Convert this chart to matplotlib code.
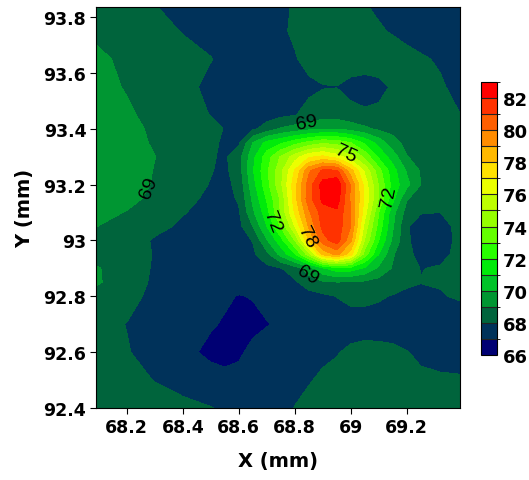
import matplotlib
matplotlib.use("Agg")
import matplotlib.pyplot as plt
import numpy as np
from matplotlib.colors import ListedColormap, BoundaryNorm
from matplotlib.ticker import FuncFormatter

plt.rcParams['font.family'] = ['DejaVu Sans']

# grid nodes (mm)
x_mm = [68.08, 68.2, 68.3, 68.4, 68.5, 68.55, 68.6, 68.65, 68.7, 68.75, 68.8,
        68.85, 68.9, 68.95, 69.0, 69.05, 69.1, 69.15, 69.2, 69.25, 69.32, 69.4]
y_mm = [92.4, 92.5, 92.6, 92.7, 92.8, 92.85, 92.9, 92.95, 93.0, 93.05, 93.1,
        93.15, 93.2, 93.25, 93.3, 93.35, 93.4, 93.45, 93.55, 93.65, 93.75, 93.84]

# values, one row per y node (bottom to top)
z_rows = [
    [68.6, 68.5, 68.4, 68.25, 68.03, 67.85, 67.65, 67.55, 67.6, 67.75, 68.02, 68.2, 68.35, 68.45, 68.5, 68.5, 68.5, 68.5, 68.5, 68.5, 68.5, 68.5],
    [68.5, 68.3, 67.97, 67.65, 67.45, 67.35, 67.3, 67.35, 67.45, 67.6, 67.8, 67.95, 68.12, 68.25, 68.35, 68.4, 68.4, 68.35, 68.25, 68.15, 68.1, 68.05],
    [68.4, 68.05, 67.7, 67.3, 66.75, 66.6, 66.85, 67.25, 67.45, 67.55, 67.65, 67.75, 67.85, 67.95, 68.15, 68.25, 68.25, 68.2, 68.03, 67.85, 67.75, 67.8],
    [68.3, 67.98, 67.7, 67.4, 67.1, 66.9, 66.7, 66.75, 66.95, 67.15, 67.3, 67.4, 67.5, 67.6, 67.65, 67.65, 67.6, 67.55, 67.5, 67.5, 67.55, 67.6],
    [68.7, 68.25, 67.8, 67.5, 67.3, 67.15, 66.95, 67.05, 67.3, 67.4, 67.45, 67.6, 67.8, 68.02, 68.2, 68.2, 68.1, 67.95, 67.8, 67.8, 67.95, 68.1],
    [69.2, 68.45, 67.85, 67.55, 67.4, 67.4, 67.4, 67.5, 67.6, 67.7, 67.85, 68.5, 68.85, 68.95, 68.9, 68.8, 68.6, 68.4, 68.15, 68.02, 68.05, 68.3],
    [69.15, 68.5, 67.9, 67.6, 67.5, 67.5, 67.5, 67.6, 67.75, 67.95, 68.5, 69.5, 70.8, 71.6, 71.5, 70.8, 69.8, 68.9, 68.4, 67.97, 68.1, 68.4],
    [68.7, 68.4, 67.95, 67.6, 67.5, 67.5, 67.55, 67.8, 68.7, 70.3, 71.9, 74.5, 78.2, 79.3, 77.4, 73.5, 71.0, 69.1, 68.3, 67.65, 67.7, 68.4],
    [68.7, 68.45, 67.9, 67.6, 67.5, 67.5, 67.6, 68.05, 69.9, 71.6, 74.0, 78.0, 80.6, 81.5, 79.2, 74.9, 72.0, 69.8, 68.2, 67.4, 67.5, 68.4],
    [69.05, 68.65, 68.25, 67.85, 67.6, 67.55, 67.7, 69.0, 71.0, 73.1, 76.0, 79.1, 81.3, 81.6, 80.0, 75.6, 72.6, 70.1, 68.1, 67.6, 67.6, 68.4],
    [69.35, 68.95, 68.55, 68.05, 67.7, 67.6, 67.9, 69.8, 71.6, 74.1, 77.1, 79.8, 81.5, 81.8, 80.0, 76.4, 73.0, 70.3, 68.6, 68.05, 68.0, 68.5],
    [69.5, 69.3, 68.75, 68.35, 67.75, 67.7, 68.1, 70.2, 72.1, 74.2, 77.6, 80.6, 82.3, 82.6, 79.8, 76.8, 73.9, 71.3, 69.1, 68.5, 68.4, 68.5],
    [69.6, 69.5, 68.9, 68.45, 67.95, 67.7, 68.3, 70.6, 72.6, 74.8, 77.6, 80.5, 82.4, 82.8, 79.9, 76.6, 73.9, 71.6, 70.3, 69.0, 68.6, 68.5],
    [69.6, 69.55, 68.95, 68.55, 68.05, 67.8, 68.5, 70.9, 72.8, 74.7, 77.1, 79.8, 81.2, 81.2, 78.4, 75.8, 73.4, 71.4, 69.9, 68.9, 68.6, 68.5],
    [69.6, 69.55, 69.02, 68.55, 68.1, 67.85, 68.6, 70.7, 72.5, 74.1, 75.5, 76.8, 77.2, 76.5, 75.3, 73.7, 71.8, 70.5, 69.05, 68.6, 68.5, 68.5],
    [69.6, 69.5, 68.85, 68.5, 68.2, 67.85, 67.85, 70.0, 71.3, 71.8, 72.6, 73.3, 73.8, 73.6, 73.0, 71.8, 70.6, 69.4, 68.7, 68.5, 68.45, 68.4],
    [69.6, 69.5, 68.7, 68.5, 68.3, 67.95, 67.7, 67.8, 68.4, 69.1, 69.4, 69.7, 69.9, 69.9, 69.6, 69.2, 68.8, 68.65, 68.45, 68.4, 68.35, 68.2],
    [69.55, 69.2, 68.6, 68.4, 67.97, 67.8, 67.6, 67.55, 67.6, 67.75, 67.95, 68.3, 68.55, 68.55, 68.3, 68.15, 68.2, 68.35, 68.4, 68.35, 68.2, 67.98],
    [69.5, 68.9, 68.5, 68.25, 67.8, 67.65, 67.55, 67.5, 67.5, 67.55, 67.65, 67.8, 67.95, 67.98, 67.7, 67.6, 67.75, 68.1, 68.4, 68.35, 68.1, 67.7],
    [69.3, 68.75, 68.55, 68.35, 68.03, 67.8, 67.65, 67.6, 67.6, 67.7, 67.92, 68.3, 68.55, 68.6, 68.55, 68.5, 68.5, 68.45, 68.3, 68.1, 67.9, 67.6],
    [68.8, 68.6, 68.35, 67.95, 67.7, 67.6, 67.55, 67.55, 67.6, 67.85, 68.15, 68.4, 68.5, 68.5, 68.45, 68.3, 68.1, 67.92, 67.7, 67.6, 67.55, 67.55],
    [68.6, 68.35, 68.02, 67.75, 67.6, 67.55, 67.5, 67.5, 67.6, 67.8, 68.1, 68.3, 68.35, 68.35, 68.2, 68.05, 67.85, 67.7, 67.6, 67.55, 67.5, 67.5],
]

levels = list(range(66, 84))
band_colors = ['#000073', '#00325A', '#00643C', '#009632', '#00C328', '#00EB0A',
               '#28FF00', '#64FF00', '#96FF00', '#BEFF00', '#EBFF00', '#FFE100',
               '#FFB900', '#FF8C00', '#FF5F00', '#FF3200', '#FF0000']

label_levels = [69, 72, 75, 78]
label_pos = [(68.258, 93.203), (68.846, 93.41), (68.85, 92.88),
             (68.721, 93.07), (69.137, 93.156), (68.982, 93.31), (68.839, 93.013)]

x = np.array(x_mm)
y = np.array(y_mm)
z = np.array(z_rows)

cmap = ListedColormap(band_colors)
norm = BoundaryNorm(levels, cmap.N)

fig = plt.figure(figsize=(5.29, 4.81), dpi=100)
ax = fig.add_axes([0.1815, 0.1497, 0.688, 0.8337])
cf = ax.contourf(x, y, z, levels=levels, cmap=cmap, norm=norm)
cs = ax.contour(x, y, z, levels=label_levels, colors='k', linewidths=0)
lbls = ax.clabel(cs, fmt='%d', manual=label_pos, inline=False, fontsize=14)
for t in cs.labelTexts:
    t.set_family(['Liberation Sans', 'DejaVu Sans'])

ax.set_xlim(68.09, 69.39)
ax.set_ylim(92.4, 93.836)
ax.set_xticks([68.2, 68.4, 68.6, 68.8, 69.0, 69.2])
ax.set_yticks([92.4, 92.6, 92.8, 93.0, 93.2, 93.4, 93.6, 93.8])
fmt = FuncFormatter(lambda v, p: '%g' % round(v, 2))
ax.xaxis.set_major_formatter(fmt)
ax.yaxis.set_major_formatter(fmt)
ax.tick_params(direction='out', length=4, width=0.8, labelsize=12.5, pad=3)
for t in ax.get_xticklabels() + ax.get_yticklabels():
    t.set_fontweight('bold')
ax.set_xlabel('X (mm)', fontsize=14, fontweight='bold', labelpad=11)
ax.set_ylabel('Y (mm)', fontsize=14, fontweight='bold', labelpad=7)
for s in ax.spines.values():
    s.set_linewidth(0.8)

cax = fig.add_axes([0.909, 0.2599, 0.0302, 0.5676])
cb = fig.colorbar(cf, cax=cax, ticks=list(range(66, 83, 2)), drawedges=True)
cb.dividers.set_color('#222222')
cb.dividers.set_linewidth(0.8)
cb.outline.set_linewidth(0.8)
cax.tick_params(length=0, labelsize=13, pad=4)
for t in cax.get_yticklabels():
    t.set_fontweight('bold')

fig.savefig('out.png', dpi=100)
